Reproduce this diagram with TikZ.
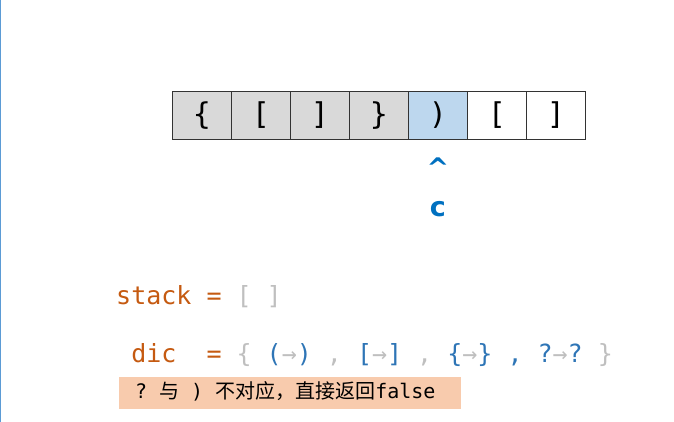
\documentclass[tikz,border=0pt]{standalone}
\usepackage{xcolor}
\usepackage{fontspec}
\setmonofont{DejaVu Sans Mono}
\newfontfamily\cjk{Noto Sans CJK SC}
\newfontfamily\ptrfont{DejaVu Sans}
\usetikzlibrary{positioning}
\definecolor{codeorange}{RGB}{197, 90, 17}
\definecolor{codeblue}{RGB}{46, 117, 182}
\definecolor{codegray}{RGB}{191, 191, 191}
\definecolor{ptrblue}{RGB}{0, 112, 192}
\definecolor{donegray}{RGB}{217, 217, 217}
\definecolor{curblue}{RGB}{189, 215, 238}
\definecolor{noteorange}{RGB}{248, 203, 173}
\definecolor{edgeblue}{RGB}{91, 155, 213}
\tikzset{
    cell/.style = {rectangle, draw=black!80, line width=0.8pt, minimum width=59pt, minimum height=48pt, inner sep=0pt, anchor=north west, font=\fontsize{30}{32}\selectfont\ttfamily},
    done/.style = {cell, fill=donegray},
    current/.style = {cell, fill=curblue},
    todo/.style = {cell, fill=white},
    pointer/.style = {text=ptrblue, inner sep=0pt, anchor=base, font=\fontsize{27}{29}\selectfont\ptrfont\bfseries},
    code/.style = {inner sep=0pt, anchor=base west, font=\fontsize{25}{28}\selectfont\ttfamily},
    notebox/.style = {rectangle, fill=noteorange, anchor=north west, minimum width=342pt, minimum height=32pt, inner sep=0pt},
    notetext/.style = {inner sep=0pt, anchor=base west, font=\fontsize{20}{24}\selectfont\ttfamily}
}
\newcommand{\gr}[1]{\textcolor{codegray}{#1}}
\newcommand{\bl}[1]{\textcolor{codeblue}{#1}}
\newcommand{\msp}{\hspace{12pt}}

\begin{document}
\begin{tikzpicture}[x=1pt, y=-1pt]
\useasboundingbox (0,0) rectangle (674,422);
\draw[edgeblue, line width=1.2pt] (0.6,0) -- (0.6,422);

% string being scanned
\foreach \ch/\kind [count=\i] in {{\{}/done, {\lbrack}/done, {\rbrack}/done, {\}}/done, {)}/current, {\lbrack}/todo, {\rbrack}/todo}
    \node (s\i) [\kind] at ({172+59*(\i-1)}, 91) {\ch};

% pointer
\node (caret) [pointer] at (s5.south |- 0,178) {\textasciicircum};
\node (ptr) [pointer] at (s5.south |- 0,216) {c};

% state
\node (stack) [code] at (116,304) {\textcolor{codeorange}{stack\ =\ }\gr{[\ ]}};
\node (dic) [code] at (116,362) {\textcolor{codeorange}{\ dic\ \ =\ }\gr{\{\ }\bl{(}\gr{→}\bl{)}\gr{\ ,\ }\bl{[}\gr{→}\bl{]}\gr{\ ,\ }\bl{\{}\gr{→}\bl{\}}\bl{\ ,\ ?}\gr{→}\bl{?}\gr{\ \}}};
\node (note) [notebox] at (119,377) {};
\node (notetext) [notetext] at (123,398) {\msp?\msp{\cjk 与}\msp)\msp{\cjk 不对应，直接返回}false};
\end{tikzpicture}
\end{document}
